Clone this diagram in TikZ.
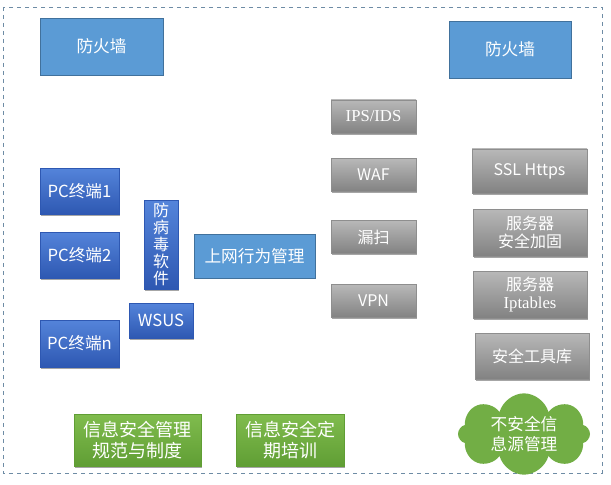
\documentclass[tikz,border=0pt]{standalone}
\usepackage{fontspec}
\setmainfont{Noto Sans CJK SC}
\newfontfamily\serifen{Liberation Serif}
\usetikzlibrary{shadows,shapes.symbols}

\definecolor{fwblue}{RGB}{91,155,213}
\definecolor{fwedge}{RGB}{65,113,156}
\definecolor{pctop}{RGB}{84,132,218}
\definecolor{pcbot}{RGB}{46,88,178}
\definecolor{graytop}{RGB}{184,184,184}
\definecolor{graybot}{RGB}{130,130,130}
\definecolor{greentop}{RGB}{128,188,78}
\definecolor{greenbot}{RGB}{96,158,52}
\definecolor{cloudgreen}{RGB}{114,174,69}
\definecolor{frameline}{RGB}{110,140,165}

\tikzset{
  shadowed/.style={drop shadow={shadow xshift=1pt,shadow yshift=-1.2pt,opacity=.35,fill=black}},
  fwbox/.style={draw=fwedge,fill=fwblue,text=white,inner sep=0pt,
    font=\fontsize{12.5}{15}\selectfont},
  pcbox/.style={shadowed,top color=pctop,bottom color=pcbot,draw=pcbot,text=white,
    inner sep=0pt,font=\fontsize{12.5}{14}\selectfont},
  graybox/.style={shadowed,top color=graytop,bottom color=graybot,draw=graybot!90,
    text=white,inner sep=0pt,align=center,font=\fontsize{12}{14}\selectfont},
  greenbox/.style={shadowed,top color=greentop,bottom color=greenbot,draw=greenbot,
    text=white,inner sep=0pt,align=center,font=\fontsize{13.5}{15.5}\selectfont},
}

\begin{document}
\begin{tikzpicture}[x=0.75pt,y=-0.75pt]
  \useasboundingbox (0,0) rectangle (611,485);
  \draw[frameline,dashed] (3,7) rectangle (602,473);

  % firewalls
  \node[fwbox,minimum width=92.25pt,minimum height=42.75pt] (fwleft) at (101.5,46.5) {防火墙};
  \node[fwbox,minimum width=91.5pt,minimum height=42.75pt] (fwright) at (510,49.5) {防火墙};

  % terminals
  \node[pcbox,minimum width=59.25pt,minimum height=34.5pt] (pcone) at (79.5,191) {PC终端1};
  \node[pcbox,minimum width=59.25pt,minimum height=34.5pt] (pctwo) at (79.5,255) {PC终端2};
  \node[pcbox,minimum width=59.25pt,minimum height=35.25pt] (pcn) at (79.5,343.5) {PC终端n};
  \node[pcbox,minimum width=25.5pt,minimum height=66.75pt,align=center,
    font=\fontsize{12}{12.9}\selectfont] (antivirus) at (161,244.5) {防\\病\\毒\\软\\件};
  \node[pcbox,minimum width=48pt,minimum height=26.25pt] (wsus) at (161,320.5) {WSUS};
  \node[fwbox,minimum width=90.75pt,minimum height=33pt] (behave) at (254.5,256) {上网行为管理};

  % network side
  \node[graybox,minimum width=63.75pt,minimum height=24.75pt,font=\serifen\fontsize{12.5}{14}\selectfont]
    (ips) at (373.5,116.5) {IPS/IDS};
  \node[graybox,minimum width=63.75pt,minimum height=24.75pt] (waf) at (373.5,175) {WAF};
  \node[graybox,minimum width=63.75pt,minimum height=24.75pt] (scan) at (373.5,237) {漏扫};
  \node[graybox,minimum width=63.75pt,minimum height=24.75pt] (vpn) at (373.5,301) {VPN};

  % server side
  \node[graybox,minimum width=86.25pt,minimum height=33pt] (ssl) at (529.5,171) {SSL Https};
  \node[graybox,minimum width=85.5pt,minimum height=35.25pt] (harden) at (530,232.5) {服务器\\安全加固};
  \node[graybox,minimum width=85.5pt,minimum height=35.25pt] (iptab) at (530,294.5)
    {服务器\\{\serifen\fontsize{12.5}{14}\selectfont Iptables}};
  \node[graybox,minimum width=85.5pt,minimum height=34.5pt] (tools) at (532,356) {安全工具库};

  % management
  \node[greenbox,minimum width=95.25pt,minimum height=39pt] (rules) at (137.5,440) {信息安全管理\\规范与制度};
  \node[greenbox,minimum width=81pt,minimum height=39pt] (train) at (290,440) {信息安全定\\期培训};
  \node[cloud,cloud puffs=8,aspect=1.6,fill=cloudgreen,text=white,align=center,
    inner xsep=-5pt,inner ysep=-4pt,minimum width=99pt,minimum height=61pt,
    font=\fontsize{12.5}{15}\selectfont] (untrusted) at (524,434) {不安全信\\息源管理};
\end{tikzpicture}
\end{document}
